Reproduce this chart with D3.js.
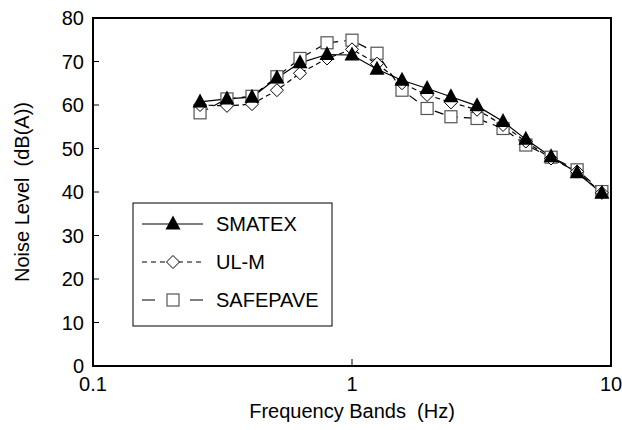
<!DOCTYPE html>
<html><head><meta charset="utf-8">
<script src="https://cdn.jsdelivr.net/npm/d3@7"></script>
<style>body{margin:0;background:#fff}svg{display:block}text{font-family:"Liberation Sans",Arial,sans-serif;fill:#000}</style>
</head><body>
<script>
const freqs = [0.259,0.329,0.411,0.513,0.630,0.801,1.0,1.249,1.56,1.95,2.41,3.04,3.83,4.69,5.87,7.4,9.22];
const smatex = [60.7,61.4,61.8,66.2,69.7,71.6,71.5,68.2,65.7,63.8,61.9,59.8,56.2,52.1,48.1,44.4,39.7];
const ulm = [60.0,59.8,60.2,63.4,67.3,70.7,72.8,69.5,65.0,62.3,60.6,58.9,55.4,51.6,47.7,44.7,39.8];
const safepave = [58.2,61.4,62.0,66.5,70.7,74.3,74.9,71.9,63.4,59.2,57.3,56.9,54.6,50.8,48.0,45.1,40.1];
const xTicks = [0.1,1,10];
const xTickLabels = ["0.1","1","10"];
const yTicks = [0,10,20,30,40,50,60,70,80];
const seriesNames = ["SMATEX","UL-M","SAFEPAVE"];

const W=622,H=430;
const m={l:93,r:11,t:18,b:64};
const FS=20;
const svg=d3.select("body").append("svg").attr("width",W).attr("height",H);
const x=d3.scaleLog().domain([0.1,10]).range([m.l,W-m.r]);
const y=d3.scaleLinear().domain([0,80]).range([H-m.b,m.t]);

const series=[
 {name:seriesNames[0],vals:smatex,dash:null,legDash:null,marker:"tri"},
 {name:seriesNames[1],vals:ulm,dash:"5,3.5",legDash:"5,4",marker:"dia"},
 {name:seriesNames[2],vals:safepave,dash:"9,6",legDash:"13,35",marker:"sq"}
];
const line=d3.line().x(d=>x(d[0])).y(d=>y(d[1]));
const triPath="M0,-8.5L7.5,5.5L-7.5,5.5Z";
const diaPath="M0,-6.5L6.5,0L0,6.5L-6.5,0Z";
function drawMarker(g,type){
  if(type==="tri") g.append("path").attr("d",triPath).attr("fill","#000");
  else if(type==="dia") g.append("path").attr("d",diaPath).attr("fill","#fff").attr("stroke","#000").attr("stroke-width",1);
  else g.append("rect").attr("x",-6).attr("y",-6).attr("width",12).attr("height",12).attr("fill","#fff").attr("stroke","#555").attr("stroke-width",1.2);
}
[series[2],series[1],series[0]].forEach(s=>{
  const pts=freqs.map((f,i)=>[f,s.vals[i]]);
  svg.append("path").attr("d",line(pts)).attr("fill","none").attr("stroke","#000").attr("stroke-width",1.2).attr("stroke-dasharray",s.dash);
});
[series[2],series[1],series[0]].forEach(s=>{
  freqs.forEach((f,i)=>{
    const g=svg.append("g").attr("transform",`translate(${x(f)},${y(s.vals[i])})`);
    drawMarker(g,s.marker);
  });
});

svg.append("rect").attr("x",m.l).attr("y",m.t).attr("width",W-m.r-m.l).attr("height",H-m.b-m.t).attr("fill","none").attr("stroke","#000").attr("stroke-width",2);
yTicks.forEach(t=>{
  if(t>0&&t<80) svg.append("line").attr("x1",m.l).attr("x2",m.l+6).attr("y1",y(t)).attr("y2",y(t)).attr("stroke","#000").attr("stroke-width",1);
  svg.append("text").attr("x",m.l-9).attr("y",y(t)).attr("dy","0.35em").attr("text-anchor","end").attr("font-size",FS).text(t);
});
xTicks.forEach((t,i)=>{
  if(i>0&&i<xTicks.length-1) svg.append("line").attr("x1",x(t)).attr("x2",x(t)).attr("y1",y(0)).attr("y2",y(0)-7).attr("stroke","#000").attr("stroke-width",1);
  svg.append("text").attr("x",x(t)).attr("y",y(0)+25).attr("text-anchor","middle").attr("font-size",FS).text(xTickLabels[i]);
});
svg.append("text").attr("x",x(1)).attr("y",418).attr("text-anchor","middle").attr("font-size",FS).attr("xml:space","preserve").text("Frequency Bands  (Hz)");
svg.append("text").attr("transform",`translate(29,${(m.t+H-m.b)/2}) rotate(-90)`).attr("text-anchor","middle").attr("font-size",FS).attr("xml:space","preserve").text("Noise Level  (dB(A))");

const lg=svg.append("g");
lg.append("rect").attr("x",133).attr("y",203).attr("width",199).attr("height",123).attr("fill","#fff").attr("stroke","#000").attr("stroke-width",1);
series.forEach((s,i)=>{
  const cy=224+i*38;
  lg.append("line").attr("x1",142).attr("x2",203).attr("y1",cy).attr("y2",cy).attr("stroke","#000").attr("stroke-width",1.2).attr("stroke-dasharray",s.legDash);
  const g=lg.append("g").attr("transform",`translate(173,${cy})`);
  drawMarker(g,s.marker);
  lg.append("text").attr("x",216).attr("y",cy).attr("dy","0.35em").attr("font-size",FS).text(s.name);
});
</script>
</body></html>
